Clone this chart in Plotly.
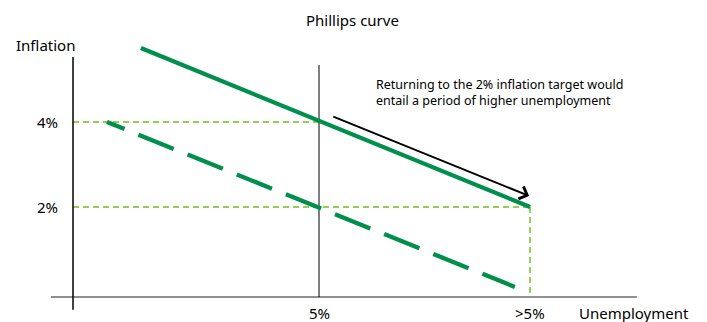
import plotly.graph_objects as go

# Data (chart units: x = unemployment position, y = inflation %)
solid_x = [1.38, 9.29]
solid_y = [5.74, 2.0]
dashed_x = [0.69, 8.98]
dashed_y = [4.0, 0.12]
target_x = [0.0, 5.0, 9.29]   # y-axis, 5%, >5%
target_y = [4.0, 2.0]
x_tick_vals = [5.0, 9.29]
x_tick_labels = ["5%", ">5%"]
y_tick_vals = [4.0, 2.0]
y_tick_labels = ["4%", "2%"]
arrow_start = (5.26, 4.14)
arrow_end = (9.27, 2.26)
note_text = "Returning to the 2% inflation target would<br>entail a period of higher unemployment"

DARK = "#008F4C"
LIGHT = "#92D050"
FONT = "Noto Sans"

fig = go.Figure()

guide = dict(color=LIGHT, width=2, dash="6px,4px")
fig.add_trace(go.Scatter(x=[target_x[0], target_x[1]], y=[target_y[0], target_y[0]], mode="lines",
                         line=guide, hoverinfo="skip"))
fig.add_trace(go.Scatter(x=[target_x[0], target_x[2]], y=[target_y[1], target_y[1]], mode="lines",
                         line=guide, hoverinfo="skip"))
fig.add_trace(go.Scatter(x=[target_x[2], target_x[2]], y=[target_y[1], -0.12], mode="lines",
                         line=guide, hoverinfo="skip"))

# axes
fig.add_trace(go.Scatter(x=[-0.45, 11.46], y=[-0.12, -0.12], mode="lines",
                         line=dict(color="#6b6b6b", width=1.5), hoverinfo="skip"))
fig.add_trace(go.Scatter(x=[0, 0], y=[-0.42, 5.53], mode="lines",
                         line=dict(color="black", width=1.5), hoverinfo="skip"))
fig.add_trace(go.Scatter(x=[5, 5], y=[-0.12, 5.34], mode="lines",
                         line=dict(color="black", width=1), hoverinfo="skip"))

# Phillips curves
dash_pattern = "19px,15px," + ",".join(["38px,15px"] * 9)
fig.add_trace(go.Scatter(x=dashed_x, y=dashed_y, mode="lines",
                         line=dict(color=DARK, width=4.3, dash=dash_pattern), hoverinfo="skip"))
fig.add_trace(go.Scatter(x=solid_x, y=solid_y, mode="lines",
                         line=dict(color=DARK, width=4.3), hoverinfo="skip"))

# arrow
fig.add_annotation(x=arrow_end[0], y=arrow_end[1], ax=arrow_start[0], ay=arrow_start[1],
                   xref="x", yref="y", axref="x", ayref="y", text="", showarrow=True,
                   arrowhead=4, arrowsize=1.3, arrowwidth=2, arrowcolor="black")

# note
fig.add_annotation(x=6.12, y=4.70, xref="x", yref="y", text=note_text, showarrow=False,
                   xanchor="left", yanchor="middle", align="left",
                   font=dict(family=FONT, size=12.5, color="black"))

# tick labels
for v, t in zip(y_tick_vals, y_tick_labels):
    fig.add_annotation(x=-0.26, y=v, xref="x", yref="y", text=t, showarrow=False,
                       xanchor="right", yanchor="middle", font=dict(family=FONT, size=15, color="black"))
for v, t in zip(x_tick_vals, x_tick_labels):
    fig.add_annotation(x=v, y=-0.5, xref="x", yref="y", text=t, showarrow=False,
                       xanchor="center", yanchor="middle", font=dict(family=FONT, size=15, color="black"))

fig.add_annotation(x=10.24, y=-0.5, xref="x", yref="y", text="Unemployment", showarrow=False,
                   xanchor="left", yanchor="middle", font=dict(family=FONT, size=15, color="black"))
fig.add_annotation(x=-1.2, y=5.81, xref="x", yref="y", text="Inflation", showarrow=False,
                   xanchor="left", yanchor="middle", font=dict(family=FONT, size=15, color="black"))
fig.add_annotation(x=5.69, y=6.4, xref="x", yref="y", text="Phillips curve", showarrow=False,
                   xanchor="center", yanchor="middle", font=dict(family=FONT, size=15, color="black"))

fig.update_layout(
    width=707, height=322, margin=dict(l=0, r=0, t=0, b=0),
    paper_bgcolor="white", plot_bgcolor="white", showlegend=False,
    xaxis=dict(range=[-1.484, 12.886], visible=False, fixedrange=True),
    yaxis=dict(range=[-0.706, 6.87], visible=False, fixedrange=True),
)

fig.write_html("out.html", config={"displayModeBar": False},
               post_script="document.body.style.margin='0';")
